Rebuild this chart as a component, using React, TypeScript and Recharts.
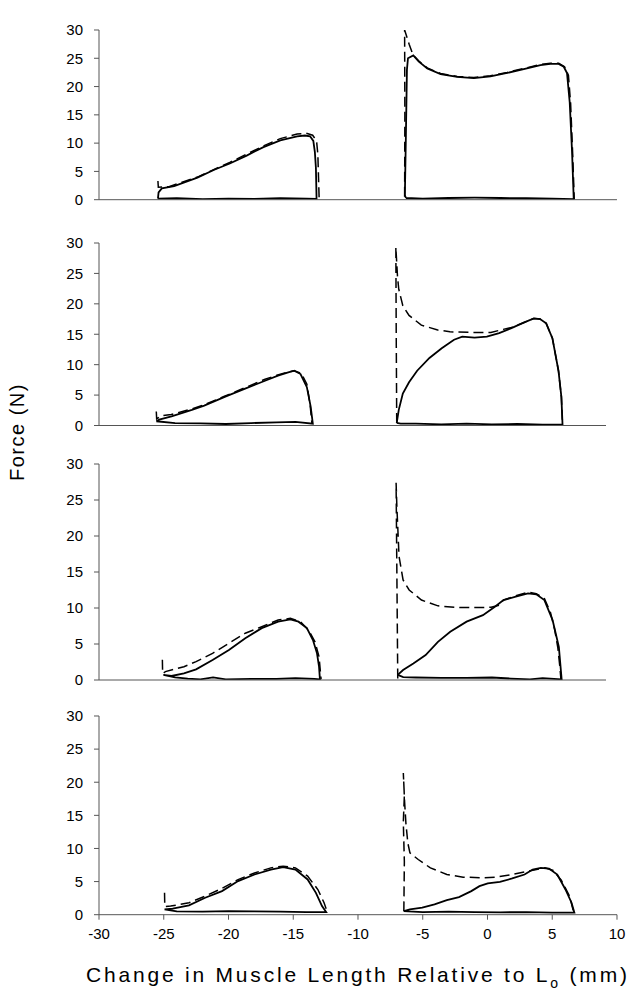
import React from "react";
import { LineChart, Line, XAxis, YAxis } from "recharts";

const xTicks = [-30, -25, -20, -15, -10, -5, 0, 5, 10];
const yTicks = [0, 5, 10, 15, 20, 25, 30];

// [change in length (mm), force (N)] traced along each loop
const p1LeftSolid = [[-25.45,0.2],[-24,0.25],[-22,0.1],[-20,0.2],[-18,0.15],[-16,0.25],[-14,0.2],[-13.2,0.15],[-13.25,5.6],[-13.33,8.4],[-13.45,10.4],[-13.7,11.2],[-14.1,11.35],[-14.7,11.2],[-16.0,10.5],[-17.3,9.3],[-18.6,7.8],[-19.9,6.4],[-21.1,5.3],[-22.4,3.9],[-24.2,2.4],[-25.15,2.0],[-25.4,1.3],[-25.45,0.2]];
const p1LeftDash = [[-25.45,3.3],[-25.42,2.2],[-24.6,2.3],[-22.4,4.0],[-19.9,6.6],[-17.3,9.5],[-16.0,10.8],[-14.7,11.6],[-14.0,11.75],[-13.5,11.4],[-13.2,10.4],[-13.1,8.0],[-13.05,4.0],[-13.0,0.2]];
const p1RightSolid = [[-6.3,0.3],[-5,0.2],[-3,0.3],[-1,0.35],[1,0.3],[3,0.25],[5,0.2],[6.66,0.1],[6.53,8.5],[6.35,17.2],[6.14,22.4],[5.89,23.5],[5.5,24.0],[4.86,24.0],[4.09,23.8],[2.8,23.1],[1.52,22.4],[0.23,21.8],[-1.05,21.5],[-2.34,21.7],[-3.62,22.2],[-4.65,23.2],[-5.3,24.4],[-5.73,25.5],[-6.14,25.0],[-6.22,23.0],[-6.3,11.5],[-6.38,0.8],[-6.3,0.3]];
const p1RightDash = [[-6.4,0.5],[-6.38,15],[-6.4,30],[-6.05,27.5],[-5.75,25.6],[-5.3,24.5],[-4.65,23.3],[-3.62,22.3],[-2.34,21.8],[-1.05,21.6],[0.23,21.9],[1.52,22.5],[2.8,23.2],[4.09,23.9],[4.86,24.1],[5.5,24.1],[5.95,23.5],[6.25,22.0],[6.42,17],[6.58,8],[6.7,0.1]];

const p2LeftSolid = [[-25.48,0.7],[-24,0.4],[-22,0.35],[-20,0.25],[-18,0.4],[-16,0.5],[-14.5,0.6],[-13.13,0.3],[-13.3,3.1],[-13.6,6.3],[-14.1,8.46],[-14.59,9.0],[-15.07,8.73],[-15.88,8.2],[-16.85,7.4],[-18.47,6.05],[-20.08,4.71],[-21.7,3.27],[-22.67,2.57],[-24.28,1.5],[-25.25,0.96],[-25.48,0.7]];
const p2LeftDash = [[-25.48,2.3],[-25.45,1.1],[-25.1,1.6],[-24.3,1.8],[-22.7,2.7],[-21.7,3.4],[-20.1,4.8],[-18.5,6.2],[-16.9,7.6],[-15.9,8.3],[-15.1,8.8],[-14.6,9.0],[-14.05,8.6],[-13.6,6.8],[-13.35,3.5],[-13.2,0.3]];
const p2RightSolid = [[-6.51,0.43],[-6.2,0.3],[-5,0.3],[-3,0.2],[-1,0.3],[1,0.2],[3,0.25],[5,0.15],[6.57,0.16],[6.48,4.7],[6.25,9.0],[5.77,14.35],[5.28,16.8],[4.8,17.5],[4.31,17.6],[3.5,16.9],[2.54,16.0],[1.57,15.2],[0.6,14.6],[-0.37,14.46],[-1.34,14.6],[-1.99,14.1],[-2.96,12.7],[-3.93,11.1],[-4.9,9.0],[-5.54,7.1],[-6.03,5.25],[-6.35,2.57],[-6.51,0.43]];
const p2RightDash = [[-6.51,0.4],[-6.55,15],[-6.58,29.3],[-6.45,24.5],[-6.35,22.4],[-6.03,19.7],[-5.54,18.1],[-4.57,16.5],[-3.28,15.7],[-2.31,15.4],[-0.7,15.3],[0.92,15.3],[1.89,15.8],[2.54,16.1],[3.5,16.9],[4.31,17.6],[4.8,17.5],[5.28,16.8],[5.77,14.35],[6.25,9],[6.48,4.7],[6.57,0.16]];

const p3LeftSolid = [[-24.92,0.7],[-24,0.35],[-23,0.2],[-22,0.1],[-21,0.35],[-20,0.1],[-18,0.15],[-16,0.15],[-14.5,0.25],[-13,0.15],[-12.57,0.1],[-12.64,1.85],[-12.8,3.7],[-13.12,5.56],[-13.6,7.2],[-14.26,8.1],[-14.9,8.43],[-15.87,8.1],[-17.16,7.2],[-18.46,5.8],[-19.75,4.17],[-21.04,2.78],[-22.34,1.48],[-23.3,0.93],[-24.28,0.56],[-24.92,0.7]];
const p3LeftDash = [[-25.0,2.8],[-24.98,0.9],[-24.76,1.16],[-23.3,1.85],[-22.34,2.55],[-21.04,3.7],[-19.75,5.1],[-18.46,6.5],[-17.16,7.4],[-15.87,8.33],[-14.9,8.56],[-14.1,8.1],[-13.45,6.9],[-12.96,5.3],[-12.64,3.24],[-12.48,0.1]];
const p3RightSolid = [[-6.43,0.7],[-6,0.4],[-5,0.35],[-3,0.3],[-1,0.3],[1,0.35],[2.5,0.2],[4,0.1],[5,0.25],[6.5,0.1],[6.28,4.6],[5.79,8.3],[5.14,11.1],[4.5,11.9],[3.85,12.04],[2.88,11.57],[1.91,11.1],[1.26,10.2],[0.29,9.0],[-1.0,8.1],[-2.29,6.7],[-3.26,5.3],[-4.23,3.47],[-5.2,2.3],[-6.01,1.39],[-6.43,0.7]];
const p3RightDash = [[-6.43,0.2],[-6.5,15],[-6.56,27.4],[-6.5,24.1],[-6.33,17.2],[-6.01,13.9],[-5.53,12.5],[-4.56,11.1],[-3.26,10.3],[-1.97,10.1],[-0.68,10.05],[0.94,10.1],[1.59,10.4],[1.91,11.1],[2.88,11.7],[3.85,12.2],[4.5,12.0],[5.14,11.3],[5.6,9.5],[5.95,7.0],[6.2,4.5],[6.35,2.0],[6.45,0]];

const p4LeftSolid = [[-24.94,0.8],[-24,0.5],[-22,0.45],[-20,0.55],[-18,0.5],[-16,0.45],[-14,0.4],[-12.46,0.4],[-12.78,1.3],[-13.25,3.3],[-13.89,5.32],[-14.83,6.82],[-15.78,7.18],[-16.73,6.82],[-17.99,6.07],[-19.26,5.07],[-20.5,3.56],[-21.8,2.56],[-23.05,1.4],[-24.31,0.9],[-24.94,0.8]];
const p4LeftDash = [[-24.94,3.3],[-24.92,1.2],[-24.47,1.3],[-23.05,1.8],[-21.8,2.8],[-20.52,3.96],[-19.26,5.3],[-17.99,6.3],[-16.73,7.07],[-15.78,7.33],[-14.83,7.07],[-13.89,5.82],[-13.1,3.8],[-12.62,1.8],[-12.4,0.55]];
const p4RightSolid = [[-6.46,0.55],[-5,0.4],[-3,0.45],[-1,0.4],[1,0.35],[3,0.4],[5,0.3],[6.71,0.3],[6.49,1.81],[6.02,3.81],[5.39,6.07],[4.75,6.97],[4.12,7.07],[3.49,6.82],[2.86,6.07],[1.91,5.47],[0.96,4.97],[0.02,4.72],[-0.62,4.31],[-1.25,3.56],[-2.2,2.66],[-3.14,2.2],[-4.09,1.55],[-5.04,1.05],[-5.99,0.8],[-6.46,0.55]];
const p4RightDash = [[-6.46,0.5],[-6.42,8],[-6.5,14],[-6.42,18],[-6.5,21.4],[-6.4,17],[-6.3,13.8],[-6.15,10.8],[-5.99,9.33],[-5.35,8.33],[-4.41,7.07],[-3.14,6.07],[-1.88,5.67],[-0.3,5.57],[0.65,5.67],[1.91,6.07],[3.18,6.57],[4.12,6.97],[4.44,7.07],[5.07,6.67],[5.7,5.2],[6.34,2.8],[6.65,0.4]];

const pts = (arr: number[][]) => arr.map(([x, y]) => ({ x, y }));

// plot box of each panel on the page: y of the 30 line, y of the 0 line, x of the 10 tick
const panels = [
  { top: 30, bottom: 199.7, right: 617, solid: [p1LeftSolid, p1RightSolid], dashed: [p1LeftDash, p1RightDash] },
  { top: 243, bottom: 425.5, right: 606, solid: [p2LeftSolid, p2RightSolid], dashed: [p2LeftDash, p2RightDash] },
  { top: 464, bottom: 680, right: 606, solid: [p3LeftSolid, p3RightSolid], dashed: [p3LeftDash, p3RightDash] },
  { top: 716, bottom: 914.7, right: 617, solid: [p4LeftSolid, p4RightSolid], dashed: [p4LeftDash, p4RightDash] },
];

const AXIS = "#555";

function Panel({ top, bottom, right, solid, dashed, showX }: any) {
  const mTop = 10;
  const axisH = showX ? 30 : 12;
  const height = bottom - top + mTop + axisH;
  return (
    <div style={{ position: "absolute", left: 0, top: top - mTop }}>
      <LineChart width={right + 20} height={height} margin={{ top: mTop, right: 20, left: 0, bottom: 0 }}>
        <XAxis
          type="number"
          dataKey="x"
          domain={[-30, 10]}
          ticks={xTicks}
          interval={0}
          height={axisH}
          tickSize={5}
          tickMargin={9}
          stroke={AXIS}
          tick={showX ? { fill: "#000", fontSize: 15 } : false}
          allowDataOverflow
        />
        <YAxis
          type="number"
          domain={[0, 30]}
          ticks={yTicks}
          interval={0}
          width={99}
          tickSize={5}
          tickMargin={11}
          stroke={AXIS}
          tick={{ fill: "#000", fontSize: 15 }}
          allowDataOverflow
        />
        {solid.map((s: number[][], i: number) => (
          <Line key={"s" + i} data={pts(s)} dataKey="y" type="linear" dot={false} stroke="#000" strokeWidth={1.8} isAnimationActive={false} />
        ))}
        {dashed.map((s: number[][], i: number) => (
          <Line key={"d" + i} data={pts(s)} dataKey="y" type="linear" dot={false} stroke="#000" strokeWidth={1.5} strokeDasharray="10 5" isAnimationActive={false} />
        ))}
      </LineChart>
    </div>
  );
}

export default function App() {
  return (
    <div
      style={{
        position: "absolute",
        left: 0,
        top: 0,
        width: 642,
        height: 999,
        background: "#fff",
        fontFamily: "Arial, 'Liberation Sans', sans-serif",
      }}
    >
      {panels.map((p, i) => (
        <Panel key={i} {...p} showX={i === panels.length - 1} />
      ))}
      <div
        style={{
          position: "absolute",
          left: 17,
          top: 432,
          transform: "translate(-50%, -50%) rotate(-90deg)",
          fontSize: 20,
          letterSpacing: 1.5,
          whiteSpace: "nowrap",
          color: "#000",
        }}
      >
        Force (N)
      </div>
      <div
        style={{
          position: "absolute",
          left: 86,
          top: 963,
          fontSize: 21,
          letterSpacing: 2.8,
          whiteSpace: "nowrap",
          color: "#000",
        }}
      >
        Change in Muscle Length Relative to L
        <sub style={{ fontSize: 14, verticalAlign: "-6px" }}>o</sub> (mm)
      </div>
    </div>
  );
}
